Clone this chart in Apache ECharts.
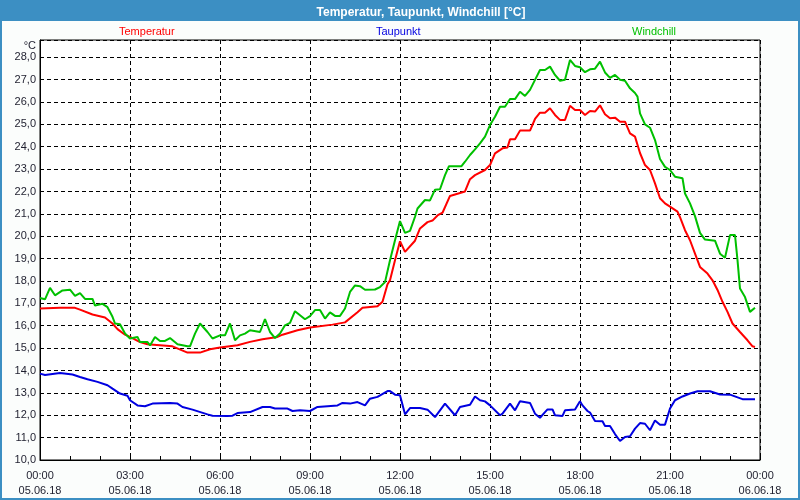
<!DOCTYPE html>
<html>
<head>
<meta charset="utf-8">
<title>Temperatur, Taupunkt, Windchill</title>
<script src="https://cdn.jsdelivr.net/npm/echarts@6/dist/echarts.min.js"></script>
<style>
  html, body { margin: 0; padding: 0; background: #fff; }
  #chart { width: 800px; height: 500px; }
</style>
</head>
<body>
<div id="chart"></div>
<script>
// Zeit in Minuten ab 05.06.18 00:00
var dayLabels = ["05.06.18", "06.06.18"];

var tempMin = [0, 40, 70, 80, 105, 130, 145, 155, 170, 180, 200, 215, 265, 295, 320, 340, 360, 395, 420, 445,
  475, 485, 515, 540, 585, 610, 635, 645, 675, 685, 695, 700, 710, 720, 730, 750, 760, 775, 785, 795,
  805, 820, 850, 860, 870, 890, 900, 910, 925, 935, 940, 950, 960, 980, 990, 1000, 1010, 1020, 1030, 1040,
  1050, 1060, 1070, 1080, 1090, 1100, 1110, 1120, 1130, 1140, 1150, 1160, 1170, 1180, 1190, 1200, 1210, 1220, 1230, 1240,
  1250, 1260, 1275, 1280, 1290, 1300, 1310, 1320, 1335, 1345, 1355, 1365, 1375, 1385, 1400, 1415, 1425, 1430];
var tempVal = [16.77, 16.8, 16.8, 16.72, 16.5, 16.37, 16.1, 15.85, 15.6, 15.5, 15.27, 15.17, 15.08, 14.8, 14.8, 14.95, 15.03, 15.13, 15.28, 15.4,
  15.5, 15.6, 15.8, 15.92, 16.05, 16.15, 16.6, 16.8, 16.87, 17.07, 17.85, 18.03, 18.93, 19.78, 19.3, 19.8, 20.35, 20.63, 20.7, 20.93,
  21.05, 21.8, 22.0, 22.55, 22.73, 22.96, 23.18, 23.7, 23.93, 23.97, 24.33, 24.33, 24.72, 24.72, 25.24, 25.52, 25.52, 25.72, 25.42, 25.2,
  25.2, 25.83, 25.64, 25.64, 25.42, 25.6, 25.57, 25.85, 25.45, 25.27, 25.3, 25.12, 25.12, 24.6, 24.45, 23.72, 23.18, 22.96, 22.36, 21.7,
  21.47, 21.32, 21.1, 20.85, 20.27, 19.82, 19.22, 18.63, 18.33, 18.03, 17.6, 17.07, 16.62, 16.1, 15.72, 15.35, 15.08, 15.05];

var dewMin = [0, 10, 40, 65, 80, 95, 115, 135, 145, 160, 175, 180, 195, 210, 225, 260, 275, 285, 305, 335,
  345, 375, 385, 395, 420, 445, 460, 470, 495, 505, 520, 540, 555, 595, 605, 620, 635, 650, 660, 675,
  695, 700, 710, 720, 730, 740, 760, 775, 790, 810, 830, 840, 860, 870, 880, 890, 900, 920, 925, 940,
  950, 960, 980, 990, 1000, 1010, 1015, 1025, 1030, 1045, 1050, 1070, 1080, 1085, 1095, 1100, 1110, 1125, 1130, 1140,
  1150, 1160, 1170, 1180, 1190, 1200, 1210, 1220, 1230, 1240, 1250, 1260, 1270, 1285, 1300, 1315, 1340, 1360, 1380, 1405, 1430];
var dewVal = [13.86, 13.8, 13.89, 13.82, 13.71, 13.61, 13.49, 13.34, 13.19, 12.97, 12.87, 12.67, 12.44, 12.4, 12.52, 12.55, 12.52, 12.37, 12.25, 12.04,
  11.98, 11.97, 11.98, 12.1, 12.14, 12.37, 12.37, 12.3, 12.3, 12.19, 12.22, 12.19, 12.37, 12.44, 12.55, 12.52, 12.59, 12.44, 12.74, 12.82,
  13.08, 13.08, 12.92, 12.89, 12.04, 12.32, 12.32, 12.25, 11.92, 12.52, 12.0, 12.37, 12.47, 12.84, 12.67, 12.62, 12.44, 12.0, 12.07, 12.52,
  12.22, 12.63, 12.55, 12.07, 11.89, 12.14, 12.26, 12.26, 12.0, 11.97, 12.22, 12.26, 12.63, 12.44, 12.19, 12.12, 11.74, 11.73, 11.52, 11.52,
  11.16, 10.85, 11.03, 11.06, 11.4, 11.65, 11.62, 11.33, 11.77, 11.58, 11.58, 12.3, 12.67, 12.84, 12.97, 13.07, 13.07, 12.93, 12.92, 12.72, 12.72];

var chillMin = [0, 10, 20, 30, 45, 60, 70, 80, 90, 105, 110, 125, 135, 145, 150, 160, 170, 180, 195, 200,
  215, 220, 230, 240, 250, 260, 275, 295, 300, 310, 320, 335, 345, 360, 370, 380, 390, 400, 410, 420,
  440, 450, 460, 470, 480, 490, 500, 510, 520, 530, 540, 550, 560, 570, 580, 590, 600, 610, 620, 630,
  640, 650, 670, 680, 690, 700, 710, 720, 730, 740, 750, 755, 770, 780, 790, 800, 810, 818, 843, 850,
  860, 870, 880, 890, 900, 910, 920, 930, 940, 950, 960, 970, 980, 990, 1000, 1010, 1020, 1030, 1040, 1050,
  1060, 1070, 1080, 1090, 1100, 1110, 1120, 1130, 1140, 1150, 1160, 1170, 1180, 1190, 1195, 1200, 1210, 1220, 1230, 1240,
  1250, 1260, 1270, 1285, 1290, 1300, 1310, 1320, 1330, 1350, 1360, 1370, 1380, 1390, 1395, 1400, 1410, 1420, 1430];
var chillVal = [17.24, 17.18, 17.69, 17.36, 17.58, 17.61, 17.33, 17.46, 17.2, 17.2, 16.9, 16.98, 16.83, 16.4, 16.1, 16.07, 15.65, 15.43, 15.5, 15.27,
  15.27, 15.12, 15.5, 15.32, 15.32, 15.45, 15.17, 15.08, 15.08, 15.65, 16.1, 15.72, 15.43, 15.57, 15.57, 16.1, 15.35, 15.57, 15.65, 15.8,
  15.72, 16.3, 15.72, 15.45, 15.65, 16.02, 16.13, 16.65, 16.47, 16.29, 16.43, 16.7, 16.7, 16.32, 16.6, 16.44, 16.44, 16.77, 17.51, 17.8,
  17.77, 17.61, 17.62, 17.73, 17.95, 18.93, 19.82, 20.68, 20.15, 20.24, 20.87, 21.24, 21.62, 21.6, 22.08, 22.1, 22.73, 23.13, 23.13, 23.33,
  23.63, 23.88, 24.15, 24.45, 24.97, 25.34, 25.79, 25.79, 26.13, 26.13, 26.46, 26.27, 26.54, 26.99, 27.43, 27.43, 27.58, 27.21, 26.95, 26.99,
  27.88, 27.61, 27.55, 27.33, 27.46, 27.49, 27.8, 27.32, 27.08, 27.21, 26.99, 26.95, 26.61, 26.4, 26.24, 25.49, 25.0, 24.85, 24.3, 23.45,
  23.1, 22.96, 22.66, 22.59, 21.91, 21.47, 20.9, 20.15, 19.85, 19.8, 19.22, 19.04, 20.05, 20.05, 18.93, 17.66, 17.28, 16.62, 16.8];

function pairs(xs, ys) {
  return xs.map(function (x, i) { return [x, ys[i]]; });
}

var chart = echarts.init(document.getElementById("chart"));
var font = "Liberation Sans";
var textColor = "#1e1e2e";
var dashed = { color: "#000", width: 1, type: [4, 3] };

var option = {
  animation: false,
  backgroundColor: "#fbfdfc",
  textStyle: { fontFamily: font },
  title: {
    text: "Temperatur, Taupunkt, Windchill [°C]",
    left: 416,
    textAlign: "center",
    top: 2,
    z: 10,
    textStyle: { color: "#fff", fontSize: 12, fontWeight: "bold", fontFamily: font }
  },
  graphic: [
    { type: "rect", z: 1, shape: { x: 0, y: 0, width: 800, height: 21 }, style: { fill: "#3c8fc3" } },
    { type: "rect", z: 1, shape: { x: 1, y: 1, width: 798, height: 498 }, style: { fill: null, stroke: "#3c8fc3", lineWidth: 2 } }
  ],
  legend: [
    { left: 109, top: 20, icon: "none", itemWidth: 0, selectedMode: false, data: ["Temperatur"],
      textStyle: { color: "#ff0000", fontSize: 11, fontFamily: font } },
    { left: 366, top: 20, icon: "none", itemWidth: 0, selectedMode: false, data: ["Taupunkt"],
      textStyle: { color: "#0000e0", fontSize: 11, fontFamily: font } },
    { left: 622, top: 20, icon: "none", itemWidth: 0, selectedMode: false, data: ["Windchill"],
      textStyle: { color: "#00c000", fontSize: 11, fontFamily: font } }
  ],
  grid: {
    left: 40, right: 40, top: 40, bottom: 40,
    show: true, backgroundColor: "#fff", borderColor: "#000", borderWidth: 1
  },
  xAxis: {
    type: "value",
    min: 0,
    max: 1440,
    interval: 180,
    axisLine: { lineStyle: { color: "#000", width: 1 } },
    axisTick: { inside: true, length: 4, lineStyle: { color: "#000" } },
    minorTick: { show: true, splitNumber: 3, length: 4, lineStyle: { color: "#000" } },
    splitLine: { show: true, lineStyle: dashed },
    axisLabel: {
      margin: 8,
      fontSize: 11,
      lineHeight: 15,
      color: textColor,
      showMinLabel: true,
      showMaxLabel: true,
      formatter: function (v) {
        var h = Math.floor(v / 60) % 24;
        var day = v >= 1440 ? dayLabels[1] : dayLabels[0];
        return (h < 10 ? "0" : "") + h + ":00\n" + day;
      }
    }
  },
  yAxis: {
    type: "value",
    min: 10,
    max: 28.77,
    interval: 1,
    name: "°C",
    nameLocation: "end",
    nameGap: -6,
    nameTextStyle: { color: textColor, fontSize: 11, align: "right", verticalAlign: "middle", padding: [0, 4, 0, 0] },
    axisLine: { show: true, lineStyle: { color: "#000", width: 1 } },
    axisTick: { show: false },
    splitLine: { show: true, lineStyle: dashed },
    axisLabel: {
      margin: 4,
      fontSize: 11,
      color: textColor,
      formatter: function (v) {
        if (Math.abs(v - Math.round(v)) > 0.001) return "";
        return v.toFixed(1).replace(".", ",");
      }
    }
  },
  series: [
    { name: "Temperatur", type: "line", data: pairs(tempMin, tempVal), showSymbol: false,
      lineStyle: { color: "#ff0000", width: 2 }, itemStyle: { color: "#ff0000" } },
    { name: "Taupunkt", type: "line", data: pairs(dewMin, dewVal), showSymbol: false,
      lineStyle: { color: "#0000e0", width: 2 }, itemStyle: { color: "#0000e0" } },
    { name: "Windchill", type: "line", data: pairs(chillMin, chillVal), showSymbol: false,
      lineStyle: { color: "#00c000", width: 2 }, itemStyle: { color: "#00c000" } }
  ]
};

chart.setOption(option);
</script>
</body>
</html>
